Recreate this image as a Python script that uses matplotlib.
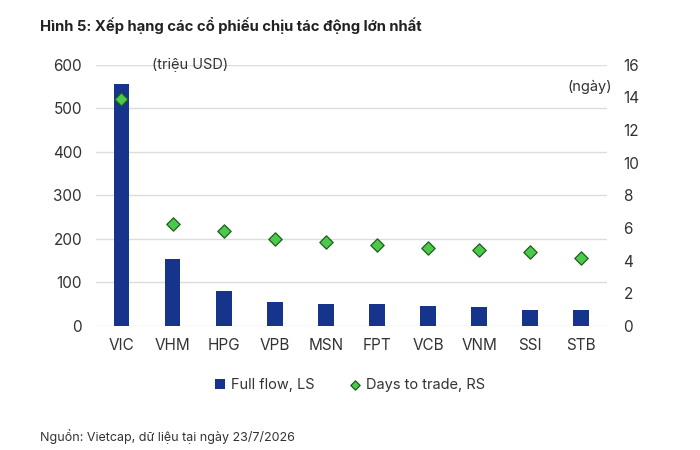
import matplotlib

matplotlib.use("Agg")
import matplotlib.pyplot as plt
import numpy as np

plt.rcParams["font.family"] = ["Inter", "DejaVu Sans"]

tickers = ["VIC", "VHM", "HPG", "VPB", "MSN", "FPT", "VCB", "VNM", "SSI", "STB"]
full_flow = [556, 154, 81, 55, 51, 50, 45, 44, 37, 37]  # triệu USD, left axis
days_to_trade = [13.9, 6.25, 5.8, 5.35, 5.15, 4.95, 4.75, 4.62, 4.54, 4.15]  # ngày, right axis

BAR_COLOR = "#16348c"
DIAMOND_COLOR = "#4cc94c"
DIAMOND_EDGE = "#1d5e1d"
TEXT_COLOR = "#333333"


def main() -> None:
    x = np.arange(len(tickers))

    fig = plt.figure(figsize=(7, 4.5), dpi=100)
    ax = fig.add_axes([0.137, 0.276, 0.73, 0.58])
    ax2 = ax.twinx()

    ax.bar(x, full_flow, width=0.31, color=BAR_COLOR, zorder=3, label="Full flow, LS")
    ax2.scatter(
        x,
        days_to_trade,
        marker="D",
        s=46,
        color=DIAMOND_COLOR,
        edgecolor=DIAMOND_EDGE,
        linewidth=0.9,
        zorder=4,
        label="Days to trade, RS",
    )

    ax.set_xlim(-0.5, 9.5)
    ax.set_ylim(0, 600)
    ax2.set_ylim(0, 16)
    ax.set_yticks(range(0, 601, 100))
    ax2.set_yticks(range(0, 17, 2))
    ax.set_xticks(x)
    ax.set_xticklabels(tickers)

    ax.grid(True, axis="y", color="#dcdcdc", linewidth=1.0, zorder=0)
    for a in (ax, ax2):
        for s in a.spines.values():
            s.set_visible(False)
        a.tick_params(length=0, labelsize=11, colors=TEXT_COLOR)
    ax.tick_params(axis="y", pad=10)
    ax.tick_params(axis="x", pad=9)
    ax2.tick_params(axis="y", pad=12)

    ax.text(0.11, 1.0, "(triệu USD)", transform=ax.transAxes, fontsize=10.5,
            color=TEXT_COLOR, va="center")
    ax2.text(1.01, 0.915, "(ngày)", transform=ax2.transAxes, fontsize=10.5,
             color=TEXT_COLOR, ha="right", va="center")

    fig.text(0.057, 0.944, "Hình 5: Xếp hạng các cổ phiếu chịu tác động lớn nhất",
             fontsize=10.7, fontweight="bold", color="#222222", va="center")

    h1, l1 = ax.get_legend_handles_labels()
    h2, l2 = ax2.get_legend_handles_labels()
    fig.legend(h1 + h2, l1 + l2, loc="center", bbox_to_anchor=(0.5, 0.145), ncol=2,
               frameon=False, fontsize=10.5, handlelength=0.7, handletextpad=0.4,
               columnspacing=2.4, markerscale=0.7, labelcolor=TEXT_COLOR)

    fig.text(0.057, 0.03, "Nguồn: Vietcap, dữ liệu tại ngày 23/7/2026",
             fontsize=9, color=TEXT_COLOR, va="center")

    fig.savefig("out.png", dpi=100)
    plt.close(fig)


if __name__ == "__main__":
    main()
